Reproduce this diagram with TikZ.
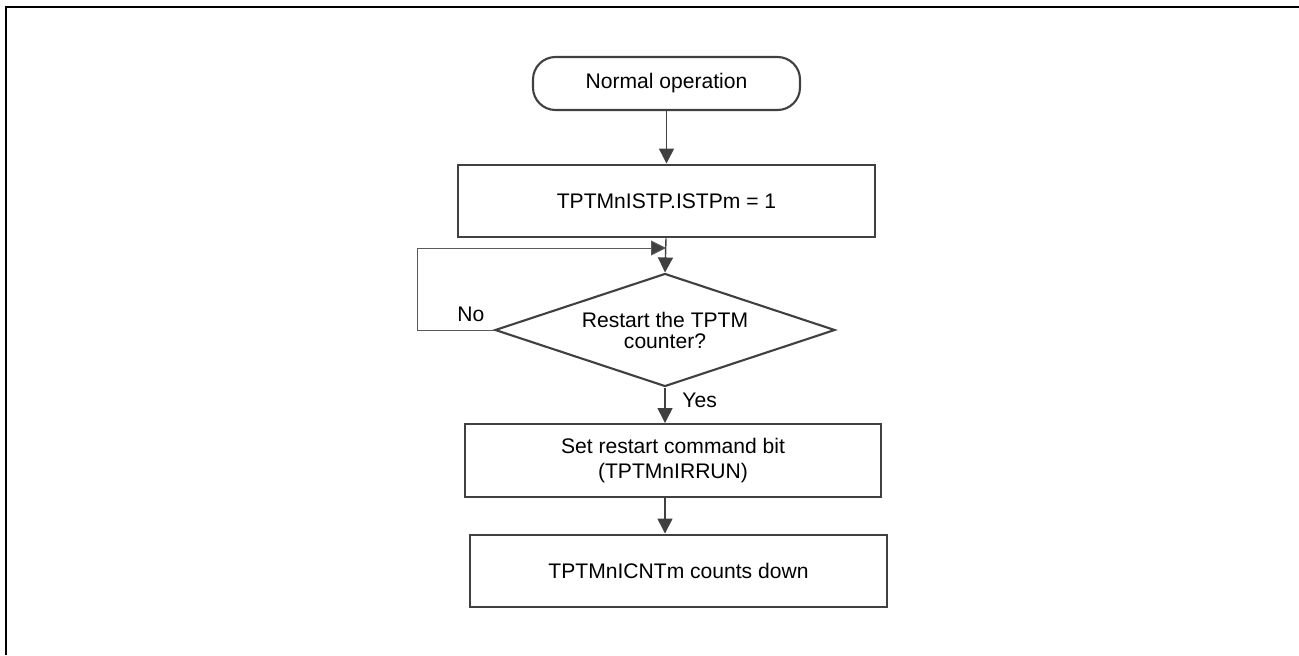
\documentclass[tikz,border=0pt]{standalone}
\usepackage{fontspec}
\setmainfont{Liberation Sans}
\usepackage{tikz}
\usetikzlibrary{shapes.geometric,arrows.meta,positioning,calc}
\definecolor{flowgray}{RGB}{64,64,64}
\definecolor{loopgray}{RGB}{90,90,90}

\begin{document}
\begin{tikzpicture}[
term/.style={draw=flowgray, line width=1.2pt, rounded corners=0.45cm,
minimum width=5.34cm, minimum height=1.06cm, align=center,
font=\fontsize{12pt}{14pt}\selectfont},
procbox/.style={draw=flowgray, line width=1.4pt, minimum height=1.45cm,
align=center, font=\fontsize{12pt}{14pt}\selectfont},
decide/.style={draw=flowgray, line width=1.2pt, diamond, aspect=3, inner sep=0pt,
minimum width=6.8cm, minimum height=2.26cm, align=center,
font=\fontsize{12pt}{12pt}\selectfont},
lbl/.style={font=\fontsize{12pt}{14pt}\selectfont, inner sep=1pt},
arrow/.style={-{Triangle[length=0.3cm, width=0.3cm]}, line width=0.8pt, draw=flowgray}
]
\useasboundingbox (0,0) rectangle (25.98,-13.1);

% outer frame
\draw[line width=1.2pt] (25.98,-0.14) -- (0.12,-0.14) -- (0.12,-13.1);

\node[term] (start) at (13.33,-1.67) {Normal operation};
\node[procbox, minimum width=8.34cm] (istp) at (13.33,-4.02) {TPTMnISTP.ISTPm = 1};
\node[decide] (restart) at (13.3,-6.6) {Restart the TPTM\\counter?};
\node[procbox, minimum width=8.32cm] (setbit) at (13.46,-9.21) {Set restart command bit\\(TPTMnIRRUN)};
\node[procbox, minimum width=8.34cm] (count) at (13.57,-11.42) {TPTMnICNTm counts down};

\coordinate (merge) at (13.32,-4.96);

\draw[arrow] (start.south) -- (start.south |- istp.north);
\draw[arrow] (istp.south -| merge) -- (restart.north);
\draw[arrow] (restart.south) -- node[lbl, right=0.3cm, pos=0.35] {Yes} (restart.south |- setbit.north);
\draw[arrow] (setbit.south -| restart.south) -- (restart.south |- count.north);

% loop back when no restart
\draw[-{Triangle[length=0.3cm, width=0.3cm, fill=flowgray]}, line width=0.5pt, draw=loopgray]
(restart.west) -- node[lbl, above=0.12cm, pos=0.3] {No} ++(-1.54,0) |- (merge);

\end{tikzpicture}
\end{document}
